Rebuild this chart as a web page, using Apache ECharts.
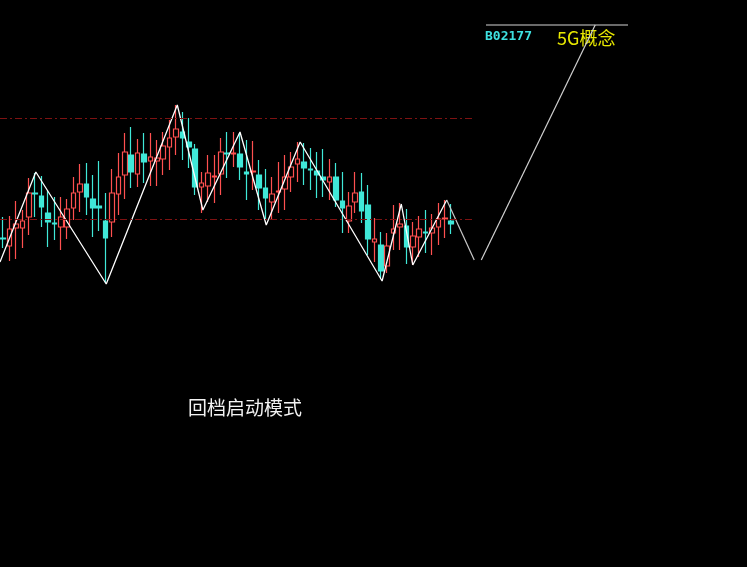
<!DOCTYPE html>
<html>
<head>
<meta charset="utf-8">
<script src="https://cdn.jsdelivr.net/npm/echarts@6/dist/echarts.min.js"></script>
<style>
html,body{margin:0;padding:0;background:#000;}
#chart{width:747px;height:567px;}
</style>
</head>
<body>
<div id="chart"></div>
<script>
// Candles: [open, close, low, high]
const candles = [
  [16.2,16.1,15.2,18.3],[15.4,17.1,13.9,18.4],[17.2,17.6,14.1,19.9],[17.2,17.9,15.2,19.0],
  [18.3,20.7,16.5,22.2],[20.7,20.6,18.3,22.7],[20.4,19.3,17.3,22.4],[18.7,17.8,15.3,21.0],
  [17.7,17.6,16.0,20.3],[17.3,18.3,15.0,20.3],[17.3,19.1,16.1,20.1],[19.2,20.7,18.0,22.3],
  [20.8,21.6,18.8,23.6],[21.6,20.3,18.5,23.7],[20.1,19.2,16.3,22.5],[19.4,19.2,16.9,23.9],
  [17.9,16.2,11.7,20.7],[17.8,20.7,16.3,23.1],[20.6,22.3,18.5,24.7],[22.5,24.8,20.1,26.7],
  [24.5,22.8,21.2,27.3],[22.6,24.7,21.3,26.1],[24.6,23.8,21.7,26.7],[23.9,24.3,21.4,26.7],
  [23.9,24.2,21.4,26.0],[24.1,25.4,22.5,26.8],[25.3,26.2,23.0,28.0],[26.3,27.1,24.5,29.5],
  [26.8,26.2,24.0,28.8],[25.8,25.3,23.2,28.2],[25.1,21.3,20.5,25.6],[21.3,21.7,18.7,22.8],
  [21.4,22.7,19.8,24.5],[22.3,22.4,19.7,24.5],[22.6,24.8,20.5,26.2],[24.7,24.6,22.2,26.8],
  [24.6,24.7,23.3,26.8],[24.6,23.3,22.0,26.7],[22.8,22.6,20.0,26.0],[22.8,22.9,21.0,25.9],
  [22.5,21.2,19.0,24.0],[21.2,20.2,18.0,23.1],[19.8,20.6,18.0,22.3],[20.8,20.9,18.7,23.8],
  [21.1,22.3,19.0,24.5],[22.3,23.3,20.8,24.8],[23.6,24.1,21.8,25.8],[23.8,23.2,21.5,25.7],
  [23.1,23.0,21.0,25.2],[22.9,22.5,20.2,24.8],[22.3,22.0,20.3,25.1],[21.8,22.3,20.0,24.1],
  [22.3,20.0,19.3,23.7],[19.9,19.2,16.7,22.8],[17.9,19.4,16.7,20.8],[19.8,20.7,18.7,22.8],
  [20.8,18.9,17.7,22.7],[19.5,16.1,14.5,21.5],[15.8,16.1,13.8,18.2],[15.5,12.9,12.2,16.8],
  [13.4,15.4,12.7,16.7],[16.7,17.1,15.0,19.5],[17.3,17.6,15.0,19.7],[17.4,15.3,13.6,19.1],
  [15.3,16.4,13.5,17.8],[16.3,17.1,14.3,18.4],[16.8,16.7,14.7,19.0],[16.7,17.2,14.5,18.6],
  [17.3,18.1,15.5,19.7],[18.1,18.2,16.2,20.0],[17.9,17.6,16.6,19.6]
];
const categoryCount = 100;
const categories = Array.from({length: categoryCount}, (_, i) => String(i + 1));
// Zigzag turning points: [bar index, price]
const zigzag = [
  [-0.5,13.8],[5.1,22.8],[16.1,11.6],[27.2,29.5],[31.2,19.0],[37.0,26.8],
  [41.1,17.5],[46.4,25.8],[59.2,11.9],[62.2,19.6],[64.0,13.5],[69.3,20.0]
];
const projectionDown = [[69.3,20.0],[73.6,14.0]];
const projectionUp = [[74.7,14.0],[92.5,37.5]];
const levels = [28.2, 18.1];
const levelRange = [-0.5, 73.7];
const titleText = '回档启动模式';
const codeText = 'B02177';
const conceptText = '5G概念';

const chart = echarts.init(document.getElementById('chart'));
const RED = '#ff5050', CYAN = '#40e8d8';
chart.setOption({
  backgroundColor: '#000',
  animation: false,
  grid: {left: 0, top: 0, width: 640, bottom: 0},
  xAxis: [
    {type: 'category', data: categories, boundaryGap: true, show: false},
    {type: 'value', min: -0.5, max: categoryCount - 0.5, show: false}
  ],
  yAxis: {type: 'value', min: -16.7, max: 40, show: false, splitLine: {show: false}},
  series: [
    {
      type: 'candlestick', xAxisIndex: 0, data: candles, barWidth: 5,
      itemStyle: {color: '#000', color0: CYAN, borderColor: RED, borderColor0: CYAN, borderWidth: 1.2}
    },
    {
      type: 'line', xAxisIndex: 1, data: zigzag, symbol: 'none',
      lineStyle: {color: '#ffffff', width: 1.3},
      markLine: {
        silent: true, symbol: 'none', label: {show: false},
        lineStyle: {color: '#7e1212', width: 1, type: [7, 3, 2, 3]},
        data: levels.map(v => [{coord: [levelRange[0], v]}, {coord: [levelRange[1], v]}])
      }
    },
    {type: 'line', xAxisIndex: 1, data: projectionDown, symbol: 'none', lineStyle: {color: '#c8c8c8', width: 1.2}},
    {type: 'line', xAxisIndex: 1, data: projectionUp, symbol: 'none', lineStyle: {color: '#d0d0d0', width: 1.2}}
  ],
  graphic: [
    {type: 'line', shape: {x1: 486, y1: 25, x2: 628, y2: 25}, style: {stroke: '#6a6a6a', lineWidth: 2}},
    {type: 'text', x: 485, y: 37, style: {text: codeText, fill: '#3ee0e0', font: 'bold 13px "DejaVu Sans Mono"', textVerticalAlign: 'middle'}},
    {type: 'text', x: 557, y: 38, style: {text: conceptText, fill: '#e8e800', font: '18px "Noto Sans CJK SC"', textVerticalAlign: 'middle'}},
    {type: 'text', x: 245, y: 408, style: {text: titleText, fill: '#f2f2f2', font: '19px "Noto Sans CJK SC"', textAlign: 'center', textVerticalAlign: 'middle'}}
  ]
});
</script>
</body>
</html>
